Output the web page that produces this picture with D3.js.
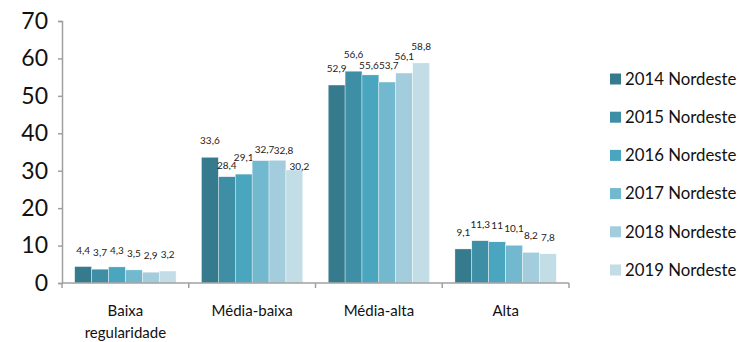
<!DOCTYPE html>
<html>
<head>
<meta charset="utf-8">
<script src="https://cdn.jsdelivr.net/npm/d3@7"></script>
<style>
  body { margin: 0; background: #fff; }
  svg { font-family: Lato, "Open Sans", sans-serif; }
</style>
</head>
<body>
<div id="chart"></div>
<script>
const categories = ["Baixa regularidade", "Média-baixa", "Média-alta", "Alta"];
const series = ["2014 Nordeste", "2015 Nordeste", "2016 Nordeste", "2017 Nordeste", "2018 Nordeste", "2019 Nordeste"];
const values = [
    [4.4, 33.6, 52.9, 9.1],   // 2014
    [3.7, 28.4, 56.6, 11.3],  // 2015
    [4.3, 29.1, 55.6, 11],    // 2016
    [3.5, 32.7, 53.7, 10.1],  // 2017
    [2.9, 32.8, 56.1, 8.2],   // 2018
    [3.2, 30.2, 58.8, 7.8]    // 2019
];
const yTicks = [0, 10, 20, 30, 40, 50, 60, 70];
const colors = ["#357b8d", "#3e8ea6", "#4aa5be", "#72b8ce", "#a3ccdc", "#c2dde6"];

// label nudges (dx, dy) where the original chart shifted labels to dodge each other
const labelNudge = {
    "Média-baixa|2015 Nordeste": [0, 5],
    "Média-baixa|2017 Nordeste": [4, 5],
    "Média-baixa|2018 Nordeste": [6, 7],
    "Média-baixa|2019 Nordeste": [5, 13],
    "Média-alta|2016 Nordeste": [-1.5, 7],
    "Média-alta|2017 Nordeste": [1.5, 0]
};

const width = 739, height = 342;
const margin = { top: 21, right: 170, bottom: 59, left: 62 };

const svg = d3.select("#chart").append("svg")
    .attr("width", width)
    .attr("height", height);

const x = d3.scaleBand().domain(categories)
    .range([margin.left, width - margin.right]).paddingInner(0).paddingOuter(0);
const x1 = d3.scaleBand().domain(series)
    .range([0, x.bandwidth()]).paddingInner(0).paddingOuter(0.75);
const y = d3.scaleLinear().domain([0, 70]).range([height - margin.bottom, margin.top]);
const color = d3.scaleOrdinal(series, colors);

// bars
const groups = svg.append("g").selectAll("g")
    .data(categories)
    .join("g")
    .attr("transform", d => `translate(${x(d)},0)`);

const cells = groups.selectAll("g")
    .data((c, ci) => series.map((s, si) => ({ c, s, v: values[si][ci] })))
    .join("g");

cells.append("rect")
    .attr("x", d => x1(d.s))
    .attr("y", d => y(d.v))
    .attr("width", x1.bandwidth())
    .attr("height", d => y(0) - y(d.v))
    .attr("fill", d => color(d.s))
    .attr("stroke", "#fff")
    .attr("stroke-width", 0.4);

const nudge = d => labelNudge[d.c + "|" + d.s] || [0, 0];
cells.append("text")
    .attr("x", d => x1(d.s) + x1.bandwidth() / 2 + nudge(d)[0])
    .attr("y", d => y(d.v) - 13 + nudge(d)[1])
    .attr("text-anchor", "middle")
    .style("font-size", "10px")
    .style("fill", "#222")
    .text(d => String(d.v).replace(".", ","));

// axes
const axisColor = "#a0a0a0";
const yAxis = svg.append("g")
    .attr("transform", `translate(${margin.left},0)`)
    .call(d3.axisLeft(y).tickValues(yTicks).tickSize(4).tickPadding(10));
yAxis.select(".domain").attr("stroke", axisColor).attr("stroke-width", 1.5);
yAxis.selectAll(".tick line").attr("stroke", axisColor).attr("stroke-width", 1.5);
yAxis.selectAll("text").style("font-size", "23px").style("fill", "#111")
    .style("font-family", "Lato, sans-serif");

const xAxis = svg.append("g")
    .attr("transform", `translate(0,${y(0)})`);
xAxis.append("line")
    .attr("x1", margin.left).attr("x2", width - margin.right)
    .attr("stroke", axisColor).attr("stroke-width", 1.5);
xAxis.selectAll(".tk")
    .data(categories.map(c => x(c)).concat([width - margin.right]))
    .join("line")
    .attr("class", "tk")
    .attr("x1", d => d).attr("x2", d => d)
    .attr("y1", 0).attr("y2", 5)
    .attr("stroke", axisColor).attr("stroke-width", 1.5);

// category labels (wrap "Baixa regularidade")
xAxis.selectAll(".cat")
    .data(categories)
    .join("text")
    .attr("class", "cat")
    .attr("text-anchor", "middle")
    .style("font-size", "15px")
    .style("fill", "#111")
    .each(function(d) {
        const lines = d === "Baixa regularidade" ? ["Baixa", "regularidade"] : [d];
        d3.select(this).selectAll("tspan")
            .data(lines)
            .join("tspan")
            .attr("x", x(d) + x.bandwidth() / 2)
            .attr("y", (l, i) => 33 + i * 22)
            .text(l => l);
    });

// legend
const legend = svg.append("g")
    .attr("transform", "translate(610,0)");
const items = legend.selectAll("g")
    .data(series)
    .join("g")
    .attr("transform", (d, i) => `translate(0,${79 + i * 38.2})`);
items.append("rect")
    .attr("x", 0).attr("y", -5.5)
    .attr("width", 11).attr("height", 11)
    .attr("fill", d => color(d));
items.append("text")
    .attr("x", 15).attr("y", 0)
    .attr("dy", "0.35em")
    .style("font-size", "16.8px")
    .style("fill", "#111")
    .text(d => d);
</script>
</body>
</html>
